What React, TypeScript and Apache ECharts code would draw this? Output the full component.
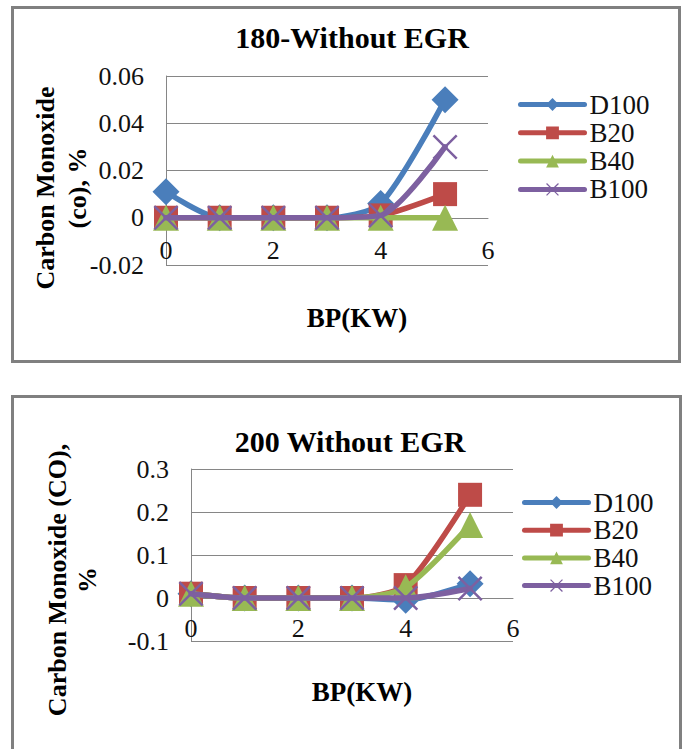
import React, { useEffect, useRef } from "react";
import * as echarts from "echarts";

const xValues = [0, 1, 2, 3, 4, 5.2];
const seriesNames = ["D100", "B20", "B40", "B100"];

// 180 - Without EGR
const d100_180 = [0.011, 0, 0, 0, 0.006, 0.05];
const b20_180 = [0, 0, 0, 0, 0.001, 0.01];
const b40_180 = [0, 0, 0, 0, 0, 0];
const b100_180 = [0, 0, 0, 0, 0.001, 0.03];

// 200 Without EGR
const d100_200 = [0.01, 0, 0, 0, -0.005, 0.033];
const b20_200 = [0.01, 0, 0, 0, 0.03, 0.24];
const b40_200 = [0.01, 0, 0, 0, 0.025, 0.17];
const b100_200 = [0.01, 0, 0, 0, 0, 0.022];

const yRange180 = { min: -0.02, max: 0.06, interval: 0.02 };
const yRange200 = { min: -0.1, max: 0.3, interval: 0.1 };

const titles = ["180-Without EGR", "200 Without EGR"];
const yNames = ["Carbon Monoxide\n(co), %", "Carbon Monoxide (CO),\n%"];
const xName = "BP(KW)";

const colors = ["#4A7EBB", "#BE4B48", "#98B954", "#7D60A0"];
const XSYM =
  "path://M0,0.7 L0.7,0 L5,4.3 L9.3,0 L10,0.7 L5.7,5 L10,9.3 L9.3,10 L5,5.7 L0.7,10 L0,9.3 L4.3,5 Z";
const symbols = ["diamond", "rect", "triangle", XSYM];
const symbolSizes = [27, 24, 26, 25];

const FONT = "'Liberation Serif', 'Times New Roman', serif";

export default function App() {
  const ref = useRef<HTMLDivElement>(null);

  useEffect(() => {
    if (!ref.current) return;
    const chart = echarts.init(ref.current, undefined, { renderer: "svg" });

    const grids = [
      { left: 166, top: 76, width: 322, height: 189 },
      { left: 191, top: 469, width: 322, height: 172 },
    ];
    const ranges = [yRange180, yRange200];

    const groups = [
      [d100_180, b20_180, b40_180, b100_180],
      [d100_200, b20_200, b40_200, b100_200],
    ];

    const series: any[] = [];
    groups.forEach((g, gi) => {
      g.forEach((vals, si) => {
        series.push({
          type: "line",
          name: seriesNames[si],
          xAxisIndex: gi,
          yAxisIndex: gi,
          data: xValues.map((x, i) => [x, vals[i]]),
          smooth: 0.25,
          symbol: symbols[si],
          symbolSize: symbolSizes[si],
          showAllSymbol: true,
          lineStyle: { width: 5.5, color: colors[si], cap: "round", join: "round" },
          itemStyle: { color: colors[si] },
          z: 2 + si,
        });
      });
    });

    const axisGray = "#868686";
    const fmt = (v: number) => String(parseFloat(v.toFixed(2)));

    const mkX = (gi: number, margin: number) => {
      const r = ranges[gi];
      const offset = (-grids[gi].height * (0 - r.min)) / (r.max - r.min);
      return {
        type: "value",
        gridIndex: gi,
        position: "bottom",
        offset,
        min: 0,
        max: 6,
        interval: 2,
        axisLine: { onZero: false, lineStyle: { color: axisGray, width: 1 } },
        axisTick: { show: false },
        splitLine: { show: false },
        axisLabel: {
          margin,
          fontFamily: FONT,
          fontSize: 26,
          color: "#111",
          formatter: fmt,
        },
      };
    };

    const mkY = (gi: number) => ({
      type: "value",
      gridIndex: gi,
      min: ranges[gi].min,
      max: ranges[gi].max,
      interval: ranges[gi].interval,
      axisLine: { show: true, onZero: false, lineStyle: { color: axisGray, width: 1 } },
      axisTick: { show: false },
      splitLine: { show: true, lineStyle: { color: axisGray, width: 1 } },
      axisLabel: {
        margin: 22,
        fontFamily: FONT,
        fontSize: 26,
        color: "#111",
        formatter: fmt,
      },
    });

    const legendBase = {
      orient: "vertical",
      itemWidth: 64,
      itemHeight: 16,
      selectedMode: false,
      data: seriesNames,
      lineStyle: { width: 5, cap: "round" },
      textStyle: {
        fontFamily: FONT,
        fontSize: 27,
        lineHeight: 25,
        color: "#111",
      },
    };

    chart.setOption({
      animation: false,
      backgroundColor: "#fff",
      grid: grids,
      xAxis: [mkX(0, 20), mkX(1, 17)],
      yAxis: [mkY(0), mkY(1)],
      legend: [
        { ...legendBase, left: 513, top: 86, itemGap: 1.3 },
        { ...legendBase, left: 517, top: 484, itemGap: 0.7 },
      ],
      series,
      graphic: [
        {
          type: "rect",
          shape: { x: 12.5, y: 7.5, width: 667, height: 354 },
          style: { fill: "none", stroke: "#808080", lineWidth: 3 },
          silent: true,
        },
        {
          type: "rect",
          shape: { x: 12.5, y: 396.5, width: 668, height: 380 },
          style: { fill: "none", stroke: "#808080", lineWidth: 3 },
          silent: true,
        },
        {
          type: "text",
          x: 352,
          y: 37,
          style: {
            text: titles[0],
            font: `bold 30px ${FONT}`,
            fill: "#000",
            textAlign: "center",
            textVerticalAlign: "middle",
          },
        },
        {
          type: "text",
          x: 350,
          y: 441,
          style: {
            text: titles[1],
            font: `bold 30px ${FONT}`,
            fill: "#000",
            textAlign: "center",
            textVerticalAlign: "middle",
          },
        },
        {
          type: "text",
          x: 357,
          y: 318,
          style: {
            text: xName,
            font: `bold 27px ${FONT}`,
            fill: "#000",
            textAlign: "center",
            textVerticalAlign: "middle",
          },
        },
        {
          type: "text",
          x: 362,
          y: 692,
          style: {
            text: xName,
            font: `bold 27px ${FONT}`,
            fill: "#000",
            textAlign: "center",
            textVerticalAlign: "middle",
          },
        },
        {
          type: "text",
          x: 61,
          y: 188,
          rotation: Math.PI / 2,
          style: {
            text: yNames[0],
            font: `bold 26px ${FONT}`,
            lineHeight: 32,
            fill: "#000",
            textAlign: "center",
            textVerticalAlign: "middle",
          },
        },
        {
          type: "text",
          x: 72,
          y: 580,
          rotation: Math.PI / 2,
          style: {
            text: yNames[1],
            font: `bold 26px ${FONT}`,
            lineHeight: 30,
            fill: "#000",
            textAlign: "center",
            textVerticalAlign: "middle",
          },
        },
      ],
    });

    return () => chart.dispose();
  }, []);

  return (
    <div
      ref={ref}
      style={{ position: "absolute", left: 0, top: 0, width: 683, height: 749 }}
    />
  );
}
